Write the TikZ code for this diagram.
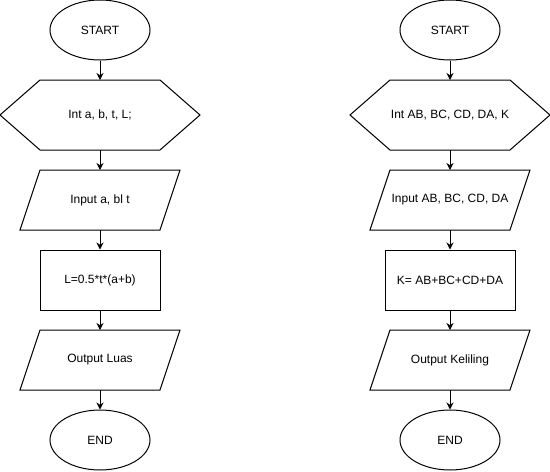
\documentclass[tikz,border=0pt]{standalone}
\usepackage{fontspec}
\setmainfont{Liberation Sans}
\usetikzlibrary{shapes.geometric,arrows.meta}

\begin{document}
\begin{tikzpicture}[x=1pt,y=-1pt,line width=1pt,font=\fontsize{12}{14}\selectfont,
  term/.style={ellipse,draw,minimum width=100pt,minimum height=60pt,inner sep=0pt},
  proc/.style={rectangle,draw,minimum height=60pt,inner sep=0pt},
  box/.style={rectangle,minimum height=60pt,inner sep=0pt,outer sep=0pt},
  flow/.style={-{Stealth[length=7pt,width=7pt]}}]
\useasboundingbox (0,0) rectangle (550,472);

\node[term] (start1) at (100,30) {START};
\node[box,minimum width=200pt,minimum height=70pt] (var1) at (100,115) {Int a, b, t, L;};
\draw ([xshift=40pt]var1.north west) -- ([xshift=-40pt]var1.north east) -- (var1.east)
  -- ([xshift=-40pt]var1.south east) -- ([xshift=40pt]var1.south west) -- (var1.west) -- cycle;
\node[box,minimum width=160pt] (in1) at (100,200) {Input a, bl t};
\draw ([xshift=20pt]in1.north west) -- (in1.north east) -- ([xshift=-20pt]in1.south east) -- (in1.south west) -- cycle;
\node[proc,minimum width=120pt] (hit1) at (100,280) {L=0.5*t*(a+b)};
\node[box,minimum width=160pt] (out1) at (100,360) {Output Luas};
\draw ([xshift=20pt]out1.north west) -- (out1.north east) -- ([xshift=-20pt]out1.south east) -- (out1.south west) -- cycle;
\node[term] (end1) at (100,440) {END};

\draw[flow] (start1) -- (var1);
\draw[flow] (var1) -- (in1);
\draw[flow] (in1) -- (hit1);
\draw[flow] (hit1) -- (out1);
\draw[flow] (out1) -- (end1);

\node[term] (start2) at (450,30) {START};
\node[box,minimum width=200pt,minimum height=70pt] (var2) at (450,115) {Int AB, BC, CD, DA, K};
\draw ([xshift=40pt]var2.north west) -- ([xshift=-40pt]var2.north east) -- (var2.east)
  -- ([xshift=-40pt]var2.south east) -- ([xshift=40pt]var2.south west) -- (var2.west) -- cycle;
\node[box,minimum width=160pt] (in2) at (450,200) {Input AB, BC, CD, DA};
\draw ([xshift=20pt]in2.north west) -- (in2.north east) -- ([xshift=-20pt]in2.south east) -- (in2.south west) -- cycle;
\node[proc,minimum width=130pt] (hit2) at (450,280) {K= AB+BC+CD+DA};
\node[box,minimum width=160pt] (out2) at (450,360) {Output Keliling};
\draw ([xshift=20pt]out2.north west) -- (out2.north east) -- ([xshift=-20pt]out2.south east) -- (out2.south west) -- cycle;
\node[term] (end2) at (450,440) {END};

\draw[flow] (start2) -- (var2);
\draw[flow] (var2) -- (in2);
\draw[flow] (in2) -- (hit2);
\draw[flow] (hit2) -- (out2);
\draw[flow] (out2) -- (end2);
\end{tikzpicture}
\end{document}
